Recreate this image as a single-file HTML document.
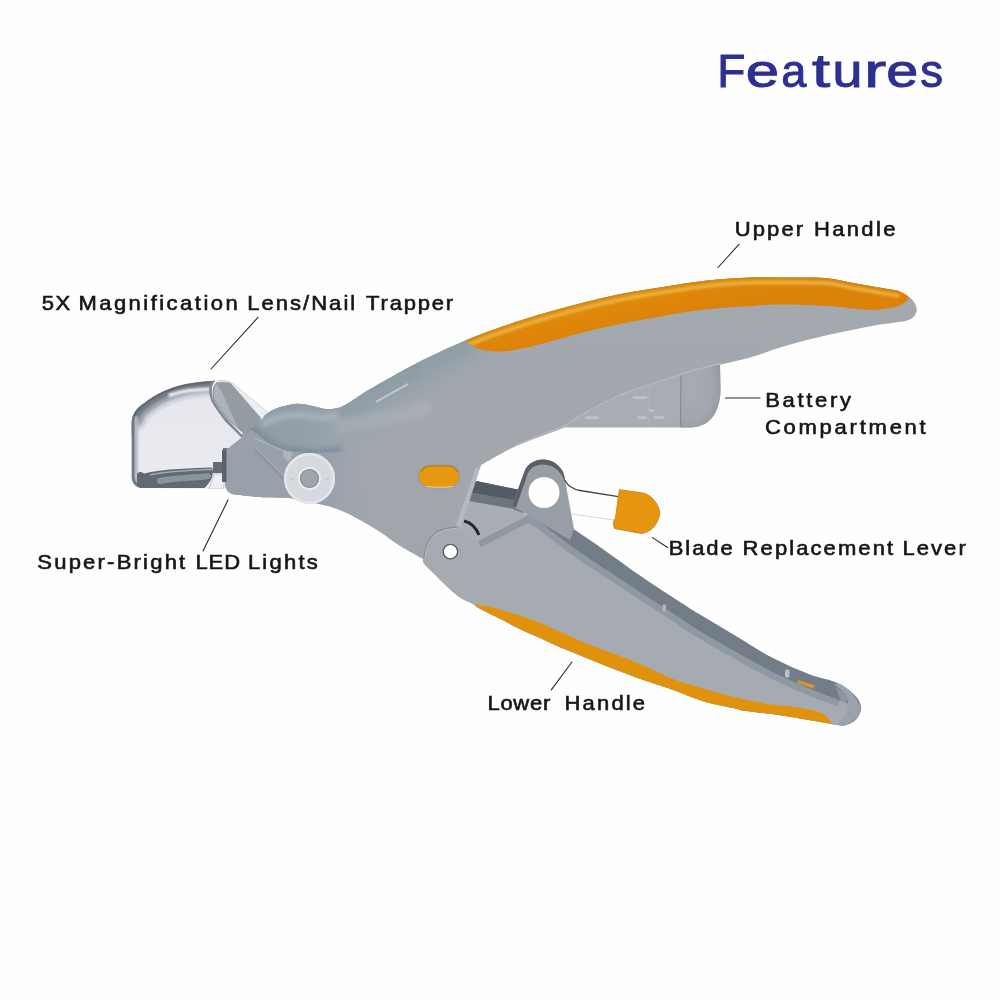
<!DOCTYPE html>
<html>
<head>
<meta charset="utf-8">
<title>Features</title>
<style>
html,body{margin:0;padding:0;background:#fefefe;}
body{width:1000px;height:1000px;overflow:hidden;font-family:"Liberation Sans",sans-serif;}
svg{display:block;position:absolute;left:0;top:0;}
text{font-family:"Liberation Sans",sans-serif;}
.lbl{font-size:20px;fill:#161616;stroke:#161616;stroke-width:0.6px;}
.ttl{font-size:47px;fill:#2d3092;stroke:#2d3092;stroke-width:1.0px;}
.ln{stroke:#2a2a2a;stroke-width:1.1;fill:none;stroke-linecap:round;}
</style>
</head>
<body>
<svg width="1000" height="1000" viewBox="0 0 1000 1000">
<defs>
<linearGradient id="gUpper" x1="0" y1="0" x2="0" y2="1">
<stop offset="0" stop-color="#a4a9b0"/><stop offset="1" stop-color="#a1a6ad"/></linearGradient>
<linearGradient id="gHead" gradientUnits="userSpaceOnUse" x1="296" y1="392" x2="350" y2="470">
<stop offset="0" stop-color="#8d9ca5"/><stop offset="0.3" stop-color="#919fa8" stop-opacity="0.9"/><stop offset="1" stop-color="#9aa3ab" stop-opacity="0"/></linearGradient>
<linearGradient id="gLowHead" gradientUnits="userSpaceOnUse" x1="320" y1="0" x2="372" y2="0">
<stop offset="0" stop-color="#98a0ab"/><stop offset="1" stop-color="#9ea4ae" stop-opacity="0"/></linearGradient>
<filter id="b6" filterUnits="userSpaceOnUse" x="100" y="250" width="850" height="500"><feGaussianBlur stdDeviation="6"/></filter>
<linearGradient id="gHead2" gradientUnits="userSpaceOnUse" x1="224" y1="0" x2="350" y2="0">
<stop offset="0" stop-color="#8d9aa4"/><stop offset="0.6" stop-color="#929ea8" stop-opacity="0.9"/><stop offset="1" stop-color="#98a2ab" stop-opacity="0"/></linearGradient>
<linearGradient id="gOr" gradientUnits="userSpaceOnUse" x1="650" y1="275" x2="660" y2="320">
<stop offset="0" stop-color="#e6920c"/><stop offset="0.5" stop-color="#e0880a"/><stop offset="1" stop-color="#dc8208"/></linearGradient>
<linearGradient id="gLens" gradientUnits="userSpaceOnUse" x1="0" y1="381" x2="0" y2="489">
<stop offset="0" stop-color="#e6e6ed"/><stop offset="1" stop-color="#ecebf2"/></linearGradient>
<linearGradient id="gLensTop" gradientUnits="userSpaceOnUse" x1="160" y1="385" x2="170" y2="410">
<stop offset="0" stop-color="#707a82"/><stop offset="0.45" stop-color="#c9ced4"/><stop offset="0.7" stop-color="#aab0b8"/><stop offset="1" stop-color="#dfe2e8"/></linearGradient>
<radialGradient id="gCap" cx="0.3" cy="0.4" r="0.8">
<stop offset="0" stop-color="#a8abb3"/><stop offset="0.6" stop-color="#a2a6ae"/><stop offset="1" stop-color="#9196a0"/></radialGradient>
<filter id="b1" filterUnits="userSpaceOnUse" x="100" y="250" width="850" height="500"><feGaussianBlur stdDeviation="1"/></filter>
<filter id="b05" filterUnits="userSpaceOnUse" x="100" y="250" width="850" height="500"><feGaussianBlur stdDeviation="0.6"/></filter>
<filter id="b2" filterUnits="userSpaceOnUse" x="100" y="250" width="850" height="500"><feGaussianBlur stdDeviation="2.5"/></filter>
<clipPath id="cUpper"><path d="M226.0,450.0 C227.0,448.8 229.7,445.3 232.0,443.0 C234.3,440.7 237.0,438.5 240.0,436.0 C243.0,433.5 246.2,431.2 250.0,428.0 C253.8,424.8 258.8,420.2 263.0,417.0 C267.2,413.8 269.7,411.2 275.0,409.0 C280.3,406.8 289.2,404.6 295.0,404.0 C300.8,403.4 305.0,404.7 310.0,405.5 C315.0,406.3 320.8,408.5 325.0,409.0 C329.2,409.5 332.2,408.9 335.0,408.5 C337.8,408.1 339.5,407.6 342.0,406.5 C344.5,405.4 347.5,403.5 350.0,402.0 C352.5,400.5 353.2,399.9 357.0,397.5 C360.8,395.1 361.7,393.9 372.5,387.8 C383.3,381.7 406.3,368.5 421.8,360.6 C437.3,352.7 453.4,345.6 465.4,340.4 C477.4,335.2 481.9,333.6 494.0,329.4 C506.1,325.2 523.3,319.5 538.0,315.1 C552.7,310.7 567.3,306.7 582.0,303.0 C596.7,299.3 613.0,295.7 626.0,293.1 C639.0,290.5 649.3,289.2 660.0,287.5 C670.7,285.8 680.0,284.2 690.0,282.8 C700.0,281.4 710.0,280.1 720.0,279.2 C730.0,278.3 740.0,277.7 750.0,277.4 C760.0,277.1 767.5,277.4 780.0,277.5 C792.5,277.6 812.8,277.1 824.8,278.0 C836.8,278.9 842.9,281.2 852.0,282.8 C861.1,284.4 871.5,286.3 879.2,287.6 C886.9,288.9 895.2,290.3 898.4,290.8 C900.0,291.7 905.4,294.1 908.0,296.0 C910.6,297.9 912.5,299.8 914.0,302.0 C915.5,304.2 916.6,307.0 916.8,309.2 C917.0,311.4 915.9,313.4 915.0,315.0 C914.1,316.6 912.9,317.8 911.2,318.8 C909.5,319.8 905.9,320.8 904.8,321.2 C900.0,321.9 886.1,323.5 876.0,325.2 C865.9,326.9 854.7,329.3 844.0,331.6 C833.3,333.9 822.7,336.1 812.0,338.8 C801.3,341.5 790.3,344.5 780.0,347.6 C769.7,350.7 759.8,354.7 750.0,357.5 C740.2,360.3 729.3,362.5 721.0,364.5 C712.7,366.5 706.7,367.8 700.0,369.6 C693.3,371.4 689.0,372.7 681.0,375.2 C673.0,377.7 662.2,381.3 652.0,384.8 C641.8,388.3 630.3,391.6 620.0,396.0 C609.7,400.4 599.3,405.8 590.0,411.0 C580.7,416.2 576.3,421.4 564.0,427.2 C551.7,433.0 529.8,439.7 516.0,446.0 C502.2,452.3 486.8,461.8 481.0,465.0 L461.0,526.0 C457.5,527.0 446.3,526.5 440.0,532.0 C433.7,537.5 425.8,554.5 423.0,559.0 C419.2,556.8 407.2,550.5 400.0,546.0 C392.8,541.5 386.7,536.3 380.0,532.0 C373.3,527.7 366.7,523.7 360.0,520.0 C353.3,516.3 346.7,512.7 340.0,510.0 C333.3,507.3 326.7,505.7 320.0,504.0 C313.3,502.3 305.0,501.0 300.0,500.0 C295.0,499.0 296.7,498.5 290.0,498.0 C283.3,497.5 269.7,497.7 260.0,497.0 C250.3,496.3 236.7,494.5 232.0,494.0 C231.0,493.0 227.3,492.0 226.0,488.0 C224.7,484.0 224.0,476.3 224.0,470.0 C224.0,463.7 225.7,453.3 226.0,450.0 Z"/></clipPath>
<clipPath id="cLower"><path d="M462.0,527.0 L527.5,515.0 L572.0,528.0 C576.7,531.2 587.8,538.5 600.0,547.0 C612.2,555.5 630.0,568.8 645.0,579.0 C660.0,589.2 680.8,602.5 690.0,608.4 C699.2,614.3 692.3,609.8 700.0,614.4 C707.7,619.0 724.0,628.8 736.0,636.0 C748.0,643.2 760.0,651.3 772.0,657.6 C784.0,663.9 797.5,669.7 808.0,673.8 C818.5,677.9 828.2,679.3 835.0,682.0 C841.8,684.7 846.7,688.7 849.0,690.0 C850.5,691.5 856.0,695.7 858.0,699.0 C860.0,702.3 861.5,706.2 861.0,709.8 C860.5,713.4 857.8,717.9 855.0,720.6 C852.2,723.3 845.8,725.1 844.0,726.0 C842.2,725.7 840.3,725.5 833.0,724.2 C825.7,722.9 810.8,720.2 800.0,718.4 C789.2,716.6 777.7,714.9 768.0,713.6 C758.3,712.3 747.3,711.2 742.0,710.4 C736.7,709.6 742.3,710.3 736.0,708.8 C729.7,707.3 714.7,704.8 704.0,701.6 C693.3,698.4 682.7,693.4 672.0,689.6 C661.3,685.8 648.7,681.9 640.0,678.8 C631.3,675.7 626.7,673.7 620.0,671.2 C613.3,668.7 606.7,666.3 600.0,663.6 C593.3,660.9 586.7,657.9 580.0,655.2 C573.3,652.5 566.7,650.1 560.0,647.2 C553.3,644.3 546.7,641.0 540.0,638.0 C533.3,635.0 526.7,632.4 520.0,629.2 C513.3,626.0 506.7,622.2 500.0,618.8 C493.3,615.4 484.3,611.2 480.0,608.8 C475.7,606.4 476.3,605.7 474.0,604.4 C471.7,603.1 468.7,602.2 466.0,600.8 C463.3,599.4 461.3,598.5 458.0,596.0 C454.7,593.5 450.0,589.3 446.0,585.6 C442.0,581.9 437.6,577.2 434.0,573.6 C430.4,570.0 426.2,566.3 424.4,564.0 C422.6,561.7 423.4,560.7 423.2,560.0 C423.3,558.0 423.4,551.1 424.0,548.0 C424.6,544.9 424.3,544.5 426.8,541.6 C429.3,538.7 434.6,533.2 438.8,530.8 C443.0,528.4 448.1,527.8 452.0,527.2 C455.9,526.6 460.3,527.0 462.0,527.0 Z"/></clipPath>
</defs>
<rect width="1000" height="1000" fill="#fefefe"/>
<path d="M555,431 L564,427.5 L690,427.5 C700,427 706,424 710,420 C714,416 716.5,411 718,406 C719.5,401 720.5,396 720.5,390 L720,366 L600,380 Z" fill="#a9acb3"/>
<path d="M681,427.5 L690,427.5 C700,427 706,424 710,420 C714,416 716.5,411 718,406 C719.5,401 720.5,396 720.5,390 L720,362 L681,372 Z" fill="url(#gCap)"/>
<path d="M681,374 L680.4,427" stroke="#858a92" stroke-width="1.1"/>
<path d="M649,386 L649,427" stroke="#b1b5bb" stroke-width="1" opacity="0.7"/>
<g stroke="#bcc0c6" stroke-width="3"><path d="M633,397.5h14M638,417.5h9M654,417.5h10M585,417.8h14M649,410.5h4.5"/></g>
<path d="M462,478 L520,490 L524,514 L455,500 Z" fill="#6d757e"/>
<path d="M462,478 L520,490 L520,501 L458,490 Z" fill="#535b64"/>
<path d="M462.0,527.0 L527.5,515.0 L572.0,528.0 C576.7,531.2 587.8,538.5 600.0,547.0 C612.2,555.5 630.0,568.8 645.0,579.0 C660.0,589.2 680.8,602.5 690.0,608.4 C699.2,614.3 692.3,609.8 700.0,614.4 C707.7,619.0 724.0,628.8 736.0,636.0 C748.0,643.2 760.0,651.3 772.0,657.6 C784.0,663.9 797.5,669.7 808.0,673.8 C818.5,677.9 828.2,679.3 835.0,682.0 C841.8,684.7 846.7,688.7 849.0,690.0 C850.5,691.5 856.0,695.7 858.0,699.0 C860.0,702.3 861.5,706.2 861.0,709.8 C860.5,713.4 857.8,717.9 855.0,720.6 C852.2,723.3 845.8,725.1 844.0,726.0 C842.2,725.7 840.3,725.5 833.0,724.2 C825.7,722.9 810.8,720.2 800.0,718.4 C789.2,716.6 777.7,714.9 768.0,713.6 C758.3,712.3 747.3,711.2 742.0,710.4 C736.7,709.6 742.3,710.3 736.0,708.8 C729.7,707.3 714.7,704.8 704.0,701.6 C693.3,698.4 682.7,693.4 672.0,689.6 C661.3,685.8 648.7,681.9 640.0,678.8 C631.3,675.7 626.7,673.7 620.0,671.2 C613.3,668.7 606.7,666.3 600.0,663.6 C593.3,660.9 586.7,657.9 580.0,655.2 C573.3,652.5 566.7,650.1 560.0,647.2 C553.3,644.3 546.7,641.0 540.0,638.0 C533.3,635.0 526.7,632.4 520.0,629.2 C513.3,626.0 506.7,622.2 500.0,618.8 C493.3,615.4 484.3,611.2 480.0,608.8 C475.7,606.4 476.3,605.7 474.0,604.4 C471.7,603.1 468.7,602.2 466.0,600.8 C463.3,599.4 461.3,598.5 458.0,596.0 C454.7,593.5 450.0,589.3 446.0,585.6 C442.0,581.9 437.6,577.2 434.0,573.6 C430.4,570.0 426.2,566.3 424.4,564.0 C422.6,561.7 423.4,560.7 423.2,560.0 C423.3,558.0 423.4,551.1 424.0,548.0 C424.6,544.9 424.3,544.5 426.8,541.6 C429.3,538.7 434.6,533.2 438.8,530.8 C443.0,528.4 448.1,527.8 452.0,527.2 C455.9,526.6 460.3,527.0 462.0,527.0 Z" fill="#737d88"/>
<path d="M477.0,541.0 L527.5,515.0 C529.5,516.2 531.2,516.4 539.6,522.4 C548.0,528.4 563.8,541.2 578.0,551.2 C592.2,561.2 613.0,574.5 625.0,582.5 C637.0,590.5 641.7,593.6 650.0,599.0 C658.3,604.4 666.7,609.6 675.0,615.0 C683.3,620.4 689.8,625.3 700.0,631.5 C710.2,637.7 724.0,645.5 736.0,652.2 C748.0,659.0 760.0,666.0 772.0,672.0 C784.0,678.0 796.6,683.4 808.0,688.2 C819.4,693.0 835.0,698.7 840.4,700.8 C842.3,702.0 851.4,703.8 852.0,708.0 C852.6,712.2 845.3,723.0 844.0,726.0 C842.2,725.7 840.3,725.5 833.0,724.2 C825.7,722.9 810.8,720.2 800.0,718.4 C789.2,716.6 777.7,714.9 768.0,713.6 C758.3,712.3 747.3,711.2 742.0,710.4 C736.7,709.6 742.3,710.3 736.0,708.8 C729.7,707.3 714.7,704.8 704.0,701.6 C693.3,698.4 682.7,693.4 672.0,689.6 C661.3,685.8 648.7,681.9 640.0,678.8 C631.3,675.7 626.7,673.7 620.0,671.2 C613.3,668.7 606.7,666.3 600.0,663.6 C593.3,660.9 586.7,657.9 580.0,655.2 C573.3,652.5 566.7,650.1 560.0,647.2 C553.3,644.3 546.7,641.0 540.0,638.0 C533.3,635.0 526.7,632.4 520.0,629.2 C513.3,626.0 506.7,622.2 500.0,618.8 C493.3,615.4 484.3,611.2 480.0,608.8 C475.7,606.4 476.3,605.7 474.0,604.4 C471.7,603.1 468.7,602.2 466.0,600.8 C463.3,599.4 461.3,598.5 458.0,596.0 C454.7,593.5 450.0,589.3 446.0,585.6 C442.0,581.9 437.6,577.2 434.0,573.6 C430.4,570.0 426.2,566.3 424.4,564.0 C422.6,561.7 423.4,560.7 423.2,560.0 C423.3,558.0 423.4,551.1 424.0,548.0 C424.6,544.9 424.3,544.5 426.8,541.6 C429.3,538.7 434.6,533.2 438.8,530.8 C443.0,528.4 448.1,527.8 452.0,527.2 C455.9,526.6 460.3,527.0 462.0,527.0 L477.0,541.0 Z" fill="#a6abb2"/>
<path d="M455,498.5 L512,508.5 L528,515.2 L477.5,541.5 L455,528 Z" fill="#a9aeb5"/>
<g clip-path="url(#cLower)"><path d="M527.5,515 C529.5,516.2 531.2,516.4 539.6,522.4 C548.0,528.4 563.8,541.2 578.0,551.2 C592.2,561.2 613.0,574.5 625.0,582.5 C637.0,590.5 641.7,593.6 650.0,599.0 C658.3,604.4 666.7,609.6 675.0,615.0 C683.3,620.4 689.8,625.3 700.0,631.5 C710.2,637.7 724.0,645.5 736.0,652.2 C748.0,659.0 760.0,666.0 772.0,672.0 C784.0,678.0 796.6,683.4 808.0,688.2 C819.4,693.0 835.0,698.7 840.4,700.8" stroke="#8f99a4" stroke-width="6.5" fill="none" transform="translate(-1.5,2.8)" stroke-linejoin="round" filter="url(#b05)"/>
<path d="M478,541.5 L527.5,516" stroke="#9097a0" stroke-width="6.5" fill="none" transform="translate(1.3,2.8)"/></g>
<path d="M474.0,604.4 C475.0,604.5 477.3,604.8 480.0,605.2 C482.7,605.6 486.7,606.1 490.0,606.8 C493.3,607.5 495.0,608.1 500.0,609.6 C505.0,611.1 513.3,613.4 520.0,615.6 C526.7,617.8 533.3,620.1 540.0,622.8 C546.7,625.5 553.3,628.8 560.0,631.8 C566.7,634.8 573.3,638.0 580.0,640.8 C586.7,643.6 593.3,646.3 600.0,648.8 C606.7,651.3 613.3,653.5 620.0,656.0 C626.7,658.5 631.3,660.3 640.0,664.0 C648.7,667.7 661.3,674.3 672.0,678.4 C682.7,682.5 693.3,685.6 704.0,688.8 C714.7,692.0 725.3,695.1 736.0,697.6 C746.7,700.1 757.3,702.3 768.0,704.0 C778.7,705.7 790.9,706.2 800.0,707.8 C809.1,709.4 816.9,710.7 822.4,713.4 C827.9,716.1 831.2,722.4 833.0,724.2 C827.5,723.2 810.8,720.2 800.0,718.4 C789.2,716.6 777.7,714.9 768.0,713.6 C758.3,712.3 747.3,711.2 742.0,710.4 C736.7,709.6 742.3,710.3 736.0,708.8 C729.7,707.3 714.7,704.8 704.0,701.6 C693.3,698.4 682.7,693.4 672.0,689.6 C661.3,685.8 648.7,681.9 640.0,678.8 C631.3,675.7 626.7,673.7 620.0,671.2 C613.3,668.7 606.7,666.3 600.0,663.6 C593.3,660.9 586.7,657.9 580.0,655.2 C573.3,652.5 566.7,650.1 560.0,647.2 C553.3,644.3 546.7,641.0 540.0,638.0 C533.3,635.0 526.7,632.4 520.0,629.2 C513.3,626.0 506.7,622.2 500.0,618.8 C493.3,615.4 484.3,611.2 480.0,608.8 C475.7,606.4 475.0,605.1 474.0,604.4 Z" fill="#e1920d"/>
<path d="M838,683 C849,688 858,697 861,709.8 C860,716 855,721 844,726 L837,724.5 C846,718 850,708 847,699 C845,693 841,689 834,684.5 Z" fill="#9ba2aa"/>
<path d="M836,687 L847,695 L846,703 L840.4,700.8 Z" fill="#8c97a1"/>
<rect x="785" y="669.5" width="4.5" height="8" rx="1.5" fill="#b9c0c7"/>
<rect x="662.5" y="604.5" width="3.5" height="7" rx="1.2" fill="#b0b7be"/>
<path d="M798,680 L815,685.5 L813,688.5 L797,683 Z" fill="#d9942c"/>
<path d="M464,521 Q474,523 479,535" stroke="#23272b" stroke-width="3" fill="none"/>
<path d="M512,506 L525,470 C527,466 530,463.5 533,462 C536,460.3 539.5,459.5 543,459.5 C548,459.5 552,461 555,463 C559,466 561.5,469 563,472 C564.2,475 564.8,477.5 565,480 L574,529 L570,540 L527.5,515 Z" fill="#979ea6"/>
<path d="M512,506 L525,470 C527,466 530,463.5 533,462 C536,460.3 539.5,459.5 543,459.5 C548,459.5 552,461 555,463 C559,466 561.5,469 563,472 C564.2,475 564.8,477.5 565,480 L565.5,483 C563,476 559,470.5 554,467.5 C550,465.3 546,464.6 543,464.6 C539,464.6 535,465.8 532,468 C530,469.5 529,471 528,473 L516,507.5 Z" fill="#596068"/>
<circle cx="544" cy="492.5" r="15.5" fill="#fefefe"/>
<path d="M565,480 C567,484 569,486 571,487 C574,489 577,490 580,490.5 L620,496.8" stroke="#41464c" stroke-width="1.3" fill="none"/>
<path d="M572,514 L614,520" stroke="#d5d8dc" stroke-width="1" fill="none"/>
<path d="M619.4,489.7 L644,493.2 C652,496 658,503 659.8,512.5 C659,522 653,529 648.5,531.2 C645,533 642,533.5 640.8,533.4 L614.4,528.5 L613.3,522.4 L615.5,518 Z" fill="#e5960e" stroke="#cd8a1a" stroke-width="1"/>
<path d="M226.0,450.0 C227.0,448.8 229.7,445.3 232.0,443.0 C234.3,440.7 237.0,438.5 240.0,436.0 C243.0,433.5 246.2,431.2 250.0,428.0 C253.8,424.8 258.8,420.2 263.0,417.0 C267.2,413.8 269.7,411.2 275.0,409.0 C280.3,406.8 289.2,404.6 295.0,404.0 C300.8,403.4 305.0,404.7 310.0,405.5 C315.0,406.3 320.8,408.5 325.0,409.0 C329.2,409.5 332.2,408.9 335.0,408.5 C337.8,408.1 339.5,407.6 342.0,406.5 C344.5,405.4 347.5,403.5 350.0,402.0 C352.5,400.5 353.2,399.9 357.0,397.5 C360.8,395.1 361.7,393.9 372.5,387.8 C383.3,381.7 406.3,368.5 421.8,360.6 C437.3,352.7 453.4,345.6 465.4,340.4 C477.4,335.2 481.9,333.6 494.0,329.4 C506.1,325.2 523.3,319.5 538.0,315.1 C552.7,310.7 567.3,306.7 582.0,303.0 C596.7,299.3 613.0,295.7 626.0,293.1 C639.0,290.5 649.3,289.2 660.0,287.5 C670.7,285.8 680.0,284.2 690.0,282.8 C700.0,281.4 710.0,280.1 720.0,279.2 C730.0,278.3 740.0,277.7 750.0,277.4 C760.0,277.1 767.5,277.4 780.0,277.5 C792.5,277.6 812.8,277.1 824.8,278.0 C836.8,278.9 842.9,281.2 852.0,282.8 C861.1,284.4 871.5,286.3 879.2,287.6 C886.9,288.9 895.2,290.3 898.4,290.8 C900.0,291.7 905.4,294.1 908.0,296.0 C910.6,297.9 912.5,299.8 914.0,302.0 C915.5,304.2 916.6,307.0 916.8,309.2 C917.0,311.4 915.9,313.4 915.0,315.0 C914.1,316.6 912.9,317.8 911.2,318.8 C909.5,319.8 905.9,320.8 904.8,321.2 C900.0,321.9 886.1,323.5 876.0,325.2 C865.9,326.9 854.7,329.3 844.0,331.6 C833.3,333.9 822.7,336.1 812.0,338.8 C801.3,341.5 790.3,344.5 780.0,347.6 C769.7,350.7 759.8,354.7 750.0,357.5 C740.2,360.3 729.3,362.5 721.0,364.5 C712.7,366.5 706.7,367.8 700.0,369.6 C693.3,371.4 689.0,372.7 681.0,375.2 C673.0,377.7 662.2,381.3 652.0,384.8 C641.8,388.3 630.3,391.6 620.0,396.0 C609.7,400.4 599.3,405.8 590.0,411.0 C580.7,416.2 576.3,421.4 564.0,427.2 C551.7,433.0 529.8,439.7 516.0,446.0 C502.2,452.3 486.8,461.8 481.0,465.0 L461.0,526.0 C457.5,527.0 446.3,526.5 440.0,532.0 C433.7,537.5 425.8,554.5 423.0,559.0 C419.2,556.8 407.2,550.5 400.0,546.0 C392.8,541.5 386.7,536.3 380.0,532.0 C373.3,527.7 366.7,523.7 360.0,520.0 C353.3,516.3 346.7,512.7 340.0,510.0 C333.3,507.3 326.7,505.7 320.0,504.0 C313.3,502.3 305.0,501.0 300.0,500.0 C295.0,499.0 296.7,498.5 290.0,498.0 C283.3,497.5 269.7,497.7 260.0,497.0 C250.3,496.3 236.7,494.5 232.0,494.0 C231.0,493.0 227.3,492.0 226.0,488.0 C224.7,484.0 224.0,476.3 224.0,470.0 C224.0,463.7 225.7,453.3 226.0,450.0 Z" fill="url(#gUpper)"/>
<g clip-path="url(#cUpper)">
<rect x="220" y="270" width="500" height="300" fill="url(#gHead)"/>
<path d="M335,408 C345,406 355,399 372.5,387.8 L421.8,360.6 L470,338" stroke="#8c9da6" stroke-width="34" fill="none" filter="url(#b6)" opacity="0.75"/>
<rect x="220" y="380" width="130" height="140" fill="url(#gHead2)"/>
<g filter="url(#b2)">
<path d="M250,428 C262,437 268,442 270,443.7 C278,447 284,449 288,450 C298,451.6 306,452.5 316,452.3 C324,452 332,451 342,449" stroke="#7c8b96" stroke-width="7.5" fill="none" opacity="0.8"/>
<path d="M262,425 C276,415 296,413 316,417 C324,418.5 330,418 338,415" stroke="#aab8be" stroke-width="6" fill="none" opacity="0.9"/>
<path d="M335,428 C370,418 400,420 430,405" stroke="#aeb3ba" stroke-width="14" fill="none" opacity="0.5"/>
</g>
<path d="M220,452 L243,436 L252,430 C262,438 268,443 270,444.7 C278,448 284,450 288,451 C298,452.6 306,452.8 315,452.8 C330,453 350,452 372,448 L372,540 L220,510 Z" fill="url(#gLowHead)"/>
<path d="M254.7,438.4 L284.4,451" stroke="#b7bec7" stroke-width="1" opacity="0.8"/>
<path d="M254.7,449.2 L282.6,478" stroke="#858e99" stroke-width="1.3" opacity="0.8"/>
<path d="M256.5,448.2 L284.4,477" stroke="#b4bbc4" stroke-width="1" opacity="0.6"/>
<path d="M282.6,450 L293.4,452.5 L289,462 L284,458 Z" fill="#b3b9c3" opacity="0.85"/>
<path d="M376.8,401.4 L407.4,384.4" stroke="#c3c8ce" stroke-width="2" stroke-linecap="round"/>
<path d="M372,390 L398,376 M404,372 C410,366 418,364 420,368 C421,372 414,376 408,377" stroke="#8696a0" stroke-width="1.2" fill="none" opacity="0.7"/>
<path d="M486,463 L465,527 L455.5,527 L475.5,468.5 L520,447.5 L523,451 Z" fill="#b4b8bf"/>
<path d="M516,445.2 C540,436 552,431 564,426.4 C575,419 582,414.5 590,410.2 C600,405 610,400 620,395.2 C632,390.5 642,387.4 652,384 C662,380.6 672,377.4 681,374.4 C690,371.6 705,367.5 721,363.7" stroke="#b4b8be" stroke-width="1.8" fill="none"/>
</g>
<path d="M465.4,340.4 C470.2,338.6 481.9,333.6 494.0,329.4 C506.1,325.2 523.3,319.5 538.0,315.1 C552.7,310.7 567.3,306.7 582.0,303.0 C596.7,299.3 613.0,295.7 626.0,293.1 C639.0,290.5 649.3,289.2 660.0,287.5 C670.7,285.8 680.0,284.2 690.0,282.8 C700.0,281.4 710.0,280.1 720.0,279.2 C730.0,278.3 740.0,277.7 750.0,277.4 C760.0,277.1 767.5,277.4 780.0,277.5 C792.5,277.6 812.8,277.1 824.8,278.0 C836.8,278.9 842.9,281.2 852.0,282.8 C861.1,284.4 871.5,286.3 879.2,287.6 C886.9,288.9 895.2,290.3 898.4,290.8 C899.5,291.3 903.3,292.9 905.0,294.0 C906.7,295.1 908.0,296.5 908.5,297.5 C909.0,298.5 908.1,299.6 908.0,300.0 C906.4,301.0 903.2,304.4 898.4,306.0 C893.6,307.6 885.6,309.0 879.2,309.5 C872.8,310.0 868.5,309.8 860.0,309.2 C851.5,308.6 841.3,306.8 828.0,306.0 C814.7,305.2 793.0,304.4 780.0,304.4 C767.0,304.4 760.0,305.6 750.0,306.2 C740.0,306.8 730.0,307.1 720.0,308.0 C710.0,308.9 700.0,310.2 690.0,311.6 C680.0,313.0 670.7,314.5 660.0,316.4 C649.3,318.3 639.0,320.1 626.0,322.8 C613.0,325.5 596.7,329.0 582.0,332.7 C567.3,336.4 548.3,342.1 538.0,344.8 C527.7,347.5 525.5,347.9 520.0,349.0 C514.5,350.1 510.0,351.1 505.0,351.4 C500.0,351.7 494.8,351.6 490.0,351.0 C485.2,350.4 480.5,349.9 476.4,348.1 C472.3,346.3 467.2,341.7 465.4,340.4 Z" fill="url(#gOr)"/>
<clipPath id="cOg"><path d="M465.4,340.4 C470.2,338.6 481.9,333.6 494.0,329.4 C506.1,325.2 523.3,319.5 538.0,315.1 C552.7,310.7 567.3,306.7 582.0,303.0 C596.7,299.3 613.0,295.7 626.0,293.1 C639.0,290.5 649.3,289.2 660.0,287.5 C670.7,285.8 680.0,284.2 690.0,282.8 C700.0,281.4 710.0,280.1 720.0,279.2 C730.0,278.3 740.0,277.7 750.0,277.4 C760.0,277.1 767.5,277.4 780.0,277.5 C792.5,277.6 812.8,277.1 824.8,278.0 C836.8,278.9 842.9,281.2 852.0,282.8 C861.1,284.4 871.5,286.3 879.2,287.6 C886.9,288.9 895.2,290.3 898.4,290.8 C899.5,291.3 903.3,292.9 905.0,294.0 C906.7,295.1 908.0,296.5 908.5,297.5 C909.0,298.5 908.1,299.6 908.0,300.0 C906.4,301.0 903.2,304.4 898.4,306.0 C893.6,307.6 885.6,309.0 879.2,309.5 C872.8,310.0 868.5,309.8 860.0,309.2 C851.5,308.6 841.3,306.8 828.0,306.0 C814.7,305.2 793.0,304.4 780.0,304.4 C767.0,304.4 760.0,305.6 750.0,306.2 C740.0,306.8 730.0,307.1 720.0,308.0 C710.0,308.9 700.0,310.2 690.0,311.6 C680.0,313.0 670.7,314.5 660.0,316.4 C649.3,318.3 639.0,320.1 626.0,322.8 C613.0,325.5 596.7,329.0 582.0,332.7 C567.3,336.4 548.3,342.1 538.0,344.8 C527.7,347.5 525.5,347.9 520.0,349.0 C514.5,350.1 510.0,351.1 505.0,351.4 C500.0,351.7 494.8,351.6 490.0,351.0 C485.2,350.4 480.5,349.9 476.4,348.1 C472.3,346.3 467.2,341.7 465.4,340.4 Z"/></clipPath>
<g clip-path="url(#cOg)">
<path d="M465.4,340.4 C470.2,338.6 481.9,333.6 494.0,329.4 C506.1,325.2 523.3,319.5 538.0,315.1 C552.7,310.7 567.3,306.7 582.0,303.0 C596.7,299.3 613.0,295.7 626.0,293.1 C639.0,290.5 649.3,289.2 660.0,287.5 C670.7,285.8 680.0,284.2 690.0,282.8 C700.0,281.4 710.0,280.1 720.0,279.2 C730.0,278.3 740.0,277.7 750.0,277.4 C760.0,277.1 767.5,277.4 780.0,277.5 C792.5,277.6 812.8,277.1 824.8,278.0 C836.8,278.9 842.9,281.2 852.0,282.8 C861.1,284.4 871.5,286.3 879.2,287.6 C886.9,288.9 895.2,290.3 898.4,290.8" stroke="#eab040" stroke-width="4.2" fill="none" transform="translate(1.2,5.2)" filter="url(#b1)" opacity="0.95"/>
<path d="M465.4,340.4 C470.2,338.6 481.9,333.6 494.0,329.4 C506.1,325.2 523.3,319.5 538.0,315.1 C552.7,310.7 567.3,306.7 582.0,303.0 C596.7,299.3 613.0,295.7 626.0,293.1 C639.0,290.5 649.3,289.2 660.0,287.5 C670.7,285.8 680.0,284.2 690.0,282.8 C700.0,281.4 710.0,280.1 720.0,279.2 C730.0,278.3 740.0,277.7 750.0,277.4 C760.0,277.1 767.5,277.4 780.0,277.5 C792.5,277.6 812.8,277.1 824.8,278.0 C836.8,278.9 842.9,281.2 852.0,282.8 C861.1,284.4 871.5,286.3 879.2,287.6 C886.9,288.9 895.2,290.3 898.4,290.8" stroke="#c98c18" stroke-width="2.6" fill="none"/>
</g>
<rect x="418" y="464.4" width="42.5" height="24" rx="11.5" fill="#8f969e" opacity="0.55" filter="url(#b05)"/>
<rect x="419" y="465.4" width="40" height="21.7" rx="10.5" fill="#e6980f"/>
<path d="M426,486.3 C430,487.6 448,487.6 453,486.3" stroke="#f3d08e" stroke-width="1" fill="none"/>
<path d="M421,472 C423,467.5 426.5,466 431,466 L448,466 C452,466 455.5,467.5 457.5,472" stroke="#a87c2e" stroke-width="1.4" fill="none" opacity="0.8"/>
<path d="M423,560 C424,548 428,540 440,530 C446,527.5 455,527 462,527 L470,560 Z" fill="#a6abb2" opacity="0"/>
<path d="M424,558 C424,548 426.8,541.6 433.8,534 C439,530 447,527.6 457.6,527" stroke="#8a9098" stroke-width="1.3" fill="none"/>
<path d="M425.4,558 C425.4,549 428,542.6 434.8,535.2 C440,531.2 448,528.9 457.6,528.4" stroke="#b3b7bd" stroke-width="1.2" fill="none"/>
<circle cx="450.4" cy="551.6" r="7.2" fill="#fefefe" stroke="#555b62" stroke-width="1.3"/>
<clipPath id="cLens"><path d="M131.75,478 L131.75,421 C133,412 138,407 144.5,403 C155,394 172,387 185,384.25 C195,382.5 205,381.5 215,380.8 C210.5,386 211,393 213.5,400 C217,407 222,413 227,419.5 L243.5,436 L226,450 L224.5,489 L141.5,488 C136,487 132.5,484 131.75,478 Z"/></clipPath>
<path d="M131.75,478 L131.75,421 C133,412 138,407 144.5,403 C155,394 172,387 185,384.25 C195,382.5 205,381.5 215,380.8 C210.5,386 211,393 213.5,400 C217,407 222,413 227,419.5 L243.5,436 L226,450 L224.5,489 L141.5,488 C136,487 132.5,484 131.75,478 Z" fill="url(#gLens)"/>
<g clip-path="url(#cLens)">
<g filter="url(#b1)">
<path d="M133,417 C135,411 139,406.5 144.5,403 C155,394 172,387 185,384.25 C195,382.5 205,381.5 215,380.8" stroke="#d0d4da" stroke-width="30" fill="none" stroke-linecap="round"/>
<path d="M133,417 C135,411 139,406.5 144.5,403 C155,394 172,387 185,384.25 C195,382.5 205,381.5 215,380.8" stroke="#9ea6ae" stroke-width="22" fill="none" stroke-linecap="round"/>
<path d="M133,417 C135,411 139,406.5 144.5,403 C155,394 172,387 185,384.25 C195,382.5 205,381.5 215,380.8" stroke="#737d87" stroke-width="13" fill="none" stroke-linecap="round"/>
<path d="M170,395 C180,391.5 192,389.5 210,389" stroke="#f1f2f5" stroke-width="3.2" fill="none" stroke-linecap="round"/>
<path d="M131.75,416 L131.75,478 C132.5,484 136,487 141.5,488" stroke="#b3b9c0" stroke-width="12" fill="none"/>
</g>
<path d="M131.75,436 L131.75,421 C133,412 138,407 144.5,403 C155,394 172,387 185,384.25 C195,382.5 205,381.5 215,380.8" stroke="#626b75" stroke-width="4.5" fill="none"/>
<path d="M131.75,416 L131.75,478 C132.5,484 136,487 141.5,488" stroke="#707a82" stroke-width="5.5" fill="none"/>
<g filter="url(#b05)">
<path d="M137,488 L137,474 C139,471 142,472 144,473.5 C155,471 167,469.5 179,469 C190,468.3 201,467.8 212,467.5 C214,472 213,480 204.5,488 Z" fill="#616a72"/>
<path d="M160,481 C175,478 195,478 208,476" stroke="#8a949c" stroke-width="6" fill="none" stroke-linecap="round"/>
<path d="M150,475 C165,471.5 195,470 212,469.5" stroke="#9fa8af" stroke-width="1.5" fill="none"/>
<path d="M209,489 L214,474 L224,474 L224,489 Z" fill="#eceef1" stroke="#b9bec4" stroke-width="0.8"/>
<rect x="213" y="462" width="9" height="11" fill="#636c74"/>
<rect x="223" y="448" width="10" height="11" fill="#6d767e"/>
<path d="M215,380.8 C210.5,386 211,393 213.5,400 C217,407 222,413 227,419.5 L243.5,436" stroke="#7f8991" stroke-width="5" fill="none"/>
</g></g>
<path d="M218,380.6 C224,380 229,381 233.5,384 L267,411.5 L262,419.5 L230.5,383 C226,382 221,381.5 216,382.5 Z" fill="#eceef1" stroke="#c3c7cd" stroke-width="0.7"/>
<path d="M216,382.5 C221,381.5 226,382 230.5,383 L261,418 L245,435 L227,419.5 C222,413 217,407 213.5,400 C211.5,393 212,387 216,382.5 Z" fill="#939ba3"/>
<path d="M217,384 C213.5,388 213,394 215,399.5 C218,406 223,412 228,418.5 L238,428 L222,392 Z" fill="#b3b9c0" opacity="0.8"/>
<rect x="222" y="450" width="4.5" height="32" fill="#5a626a"/>
<circle cx="309.5" cy="478.5" r="25.5" fill="#d6d9de"/>
<circle cx="309.5" cy="478.5" r="24.3" fill="none" stroke="#e4e6e9" stroke-width="2.4"/>
<circle cx="309.5" cy="478.5" r="10.5" fill="#9da5ad" stroke="#eceef0" stroke-width="1.8"/>
<circle cx="309.5" cy="478.5" r="9" fill="none" stroke="#89929a" stroke-width="1.2"/>
<path d="M290,479 h4 M325,479 h4" stroke="#bfc3c8" stroke-width="1.2"/>
<g opacity="0.999">
<text class="lbl" transform="translate(734.70,236.1) scale(1.100,1)" letter-spacing="1.95">Upper</text>
<text class="lbl" transform="translate(813.90,236.1) scale(1.100,1)" letter-spacing="2.16">Handle</text>
<text class="lbl" transform="translate(41.70,310.3) scale(1.100,1)" letter-spacing="1.36">5X</text>
<text class="lbl" transform="translate(78.40,310.3) scale(1.100,1)" letter-spacing="2.25">Magnification</text>
<text class="lbl" transform="translate(247.30,310.3) scale(1.100,1)" letter-spacing="1.84">Lens/Nail</text>
<text class="lbl" transform="translate(366.10,310.3) scale(1.100,1)" letter-spacing="1.64">Trapper</text>
<text class="lbl" transform="translate(765.30,406.6) scale(1.100,1)" letter-spacing="2.41">Battery</text>
<text class="lbl" transform="translate(764.90,433.6) scale(1.100,1)" letter-spacing="2.51">Compartment</text>
<text class="lbl" transform="translate(668.80,554.6) scale(1.100,1)" letter-spacing="1.73">Blade</text>
<text class="lbl" transform="translate(742.60,554.6) scale(1.100,1)" letter-spacing="1.90">Replacement</text>
<text class="lbl" transform="translate(902.40,554.6) scale(1.100,1)" letter-spacing="1.89">Lever</text>
<text class="lbl" transform="translate(37.30,569.4) scale(1.100,1)" letter-spacing="2.02">Super-Bright</text>
<text class="lbl" transform="translate(195.40,569.4) scale(1.100,1)" letter-spacing="0.86">LED</text>
<text class="lbl" transform="translate(247.90,569.4) scale(1.100,1)" letter-spacing="2.04">Lights</text>
<text class="lbl" transform="translate(487.40,709.7) scale(1.100,1)" letter-spacing="0.68">Lower</text>
<text class="lbl" transform="translate(564.50,709.7) scale(1.100,1)" letter-spacing="1.98">Handle</text>
<text class="ttl" transform="translate(717.16,87.3) scale(0.979,1)">F</text>
<text class="ttl" transform="translate(745.85,87.3) scale(1.274,1)">e</text>
<text class="ttl" transform="translate(781.28,87.3) scale(0.960,1)">a</text>
<text class="ttl" transform="translate(812.00,87.3) scale(1.385,1)">t</text>
<text class="ttl" transform="translate(832.57,87.3) scale(1.143,1)">u</text>
<text class="ttl" transform="translate(864.20,87.3) scale(1.400,1)">r</text>
<text class="ttl" transform="translate(886.36,87.3) scale(1.222,1)">e</text>
<text class="ttl" transform="translate(920.23,87.3) scale(0.971,1)">s</text>
</g>
<path class="ln" d="M739.0,244.4 L718.0,267.5"/>
<path class="ln" d="M258.0,317.4 L211.0,369.0"/>
<path class="ln" d="M725.5,398.0 L760.0,398.0"/>
<path class="ln" d="M652.5,537.6 L667.5,547.5"/>
<path class="ln" d="M228.0,500.0 L203.0,551.0"/>
<path class="ln" d="M571.9,662.0 L551.3,689.8"/>
</svg>
</body>
</html>
